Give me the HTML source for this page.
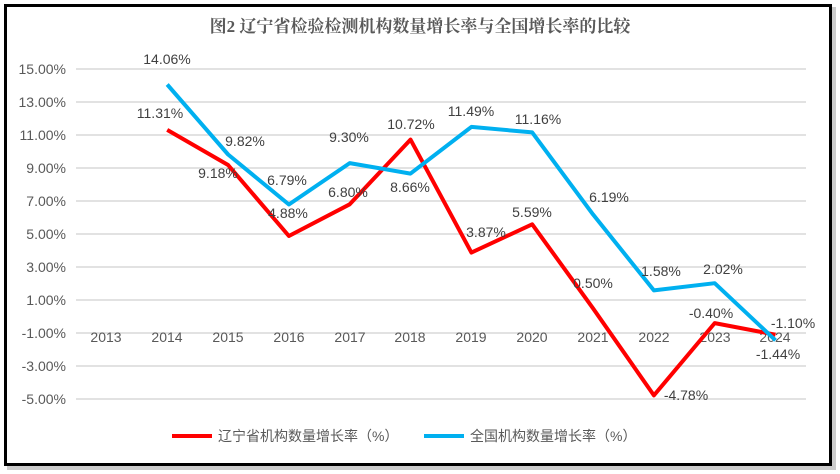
<!DOCTYPE html>
<html><head><meta charset="utf-8"><style>
body{margin:0;background:#fff;width:840px;height:474px;overflow:hidden}
svg{display:block;font-family:"Liberation Sans","Noto Sans CJK SC",sans-serif}
</style></head><body>
<svg width="840" height="474" viewBox="0 0 840 474">
<rect x="7" y="7" width="829" height="463" fill="#999" opacity="0.5"/>
<rect x="5.5" y="5.5" width="825" height="459" fill="#fff" stroke="#000" stroke-width="3"/>
<text x="420" y="32" text-anchor="middle" font-size="17" font-weight="bold" fill="#595959" font-family="Liberation Serif,'Noto Serif CJK SC',serif">图2 辽宁省检验检测机构数量增长率与全国增长率的比较</text>
<g stroke="#d9d9d9" stroke-width="1.5">
<line x1="76" x2="806" y1="69" y2="69"/><line x1="76" x2="806" y1="102" y2="102"/>
<line x1="76" x2="806" y1="135" y2="135"/><line x1="76" x2="806" y1="168" y2="168"/>
<line x1="76" x2="806" y1="201" y2="201"/><line x1="76" x2="806" y1="234" y2="234"/>
<line x1="76" x2="806" y1="267" y2="267"/><line x1="76" x2="806" y1="300" y2="300"/>
<line x1="76" x2="806" y1="333" y2="333"/><line x1="76" x2="806" y1="366" y2="366"/>
<line x1="76" x2="806" y1="399" y2="399"/>
</g>
<g font-size="14" fill="#595959" text-anchor="end">
<text x="66" y="74">15.00%</text><text x="66" y="107">13.00%</text><text x="66" y="140">11.00%</text>
<text x="66" y="173">9.00%</text><text x="66" y="206">7.00%</text><text x="66" y="239">5.00%</text>
<text x="66" y="272">3.00%</text><text x="66" y="305">1.00%</text><text x="66" y="338">-1.00%</text>
<text x="66" y="371">-3.00%</text><text x="66" y="404">-5.00%</text>
</g>
<g font-size="14" fill="#595959" text-anchor="middle">
<text x="106" y="342">2013</text><text x="167" y="342">2014</text><text x="228" y="342">2015</text>
<text x="289" y="342">2016</text><text x="350" y="342">2017</text><text x="410" y="342">2018</text>
<text x="471" y="342">2019</text><text x="532" y="342">2020</text><text x="593" y="342">2021</text>
<text x="654" y="342">2022</text><text x="715" y="342">2023</text><text x="775" y="342">2024</text>
</g>
<polyline fill="none" stroke="#ff0000" stroke-width="4" stroke-linejoin="round" points="167.2,129.9 228.1,165 288.9,236 349.7,204.3 410.5,139.6 471.4,252.6 532.2,224.3 593,308.3 653.9,395.4 714.7,323.1 775.5,334.7"/>
<polyline fill="none" stroke="#00b0f0" stroke-width="4" stroke-linejoin="round" points="167.2,84.5 228.1,154.5 288.9,204.5 349.7,163.1 410.5,173.6 471.4,126.9 532.2,132.4 593,214.4 653.9,290.4 714.7,283.2 775.5,340.3"/>
<g font-size="14" fill="#404040" text-anchor="middle">
<text x="167" y="64">14.06%</text><text x="160" y="118">11.31%</text>
<text x="245" y="146">9.82%</text><text x="218" y="178">9.18%</text>
<text x="287" y="185">6.79%</text><text x="288" y="218">4.88%</text>
<text x="349" y="142">9.30%</text><text x="348" y="197">6.80%</text>
<text x="411" y="129">10.72%</text><text x="410" y="192">8.66%</text>
<text x="471" y="116">11.49%</text><text x="486" y="237">3.87%</text>
<text x="538" y="124">11.16%</text><text x="532" y="217">5.59%</text>
<text x="609" y="202">6.19%</text><text x="593" y="288">0.50%</text>
<text x="661" y="276">1.58%</text><text x="686" y="400">-4.78%</text>
<text x="723" y="274">2.02%</text><text x="711" y="318">-0.40%</text>
<text x="793" y="328">-1.10%</text><text x="778" y="359">-1.44%</text>
</g>
<line x1="172" x2="212" y1="436" y2="436" stroke="#ff0000" stroke-width="4"/>
<text x="218" y="441" font-size="14" fill="#595959">辽宁省机构数量增长率（%）</text>
<line x1="424" x2="464" y1="436" y2="436" stroke="#00b0f0" stroke-width="4"/>
<text x="470" y="441" font-size="14" fill="#595959">全国机构数量增长率（%）</text>
</svg>
</body></html>
